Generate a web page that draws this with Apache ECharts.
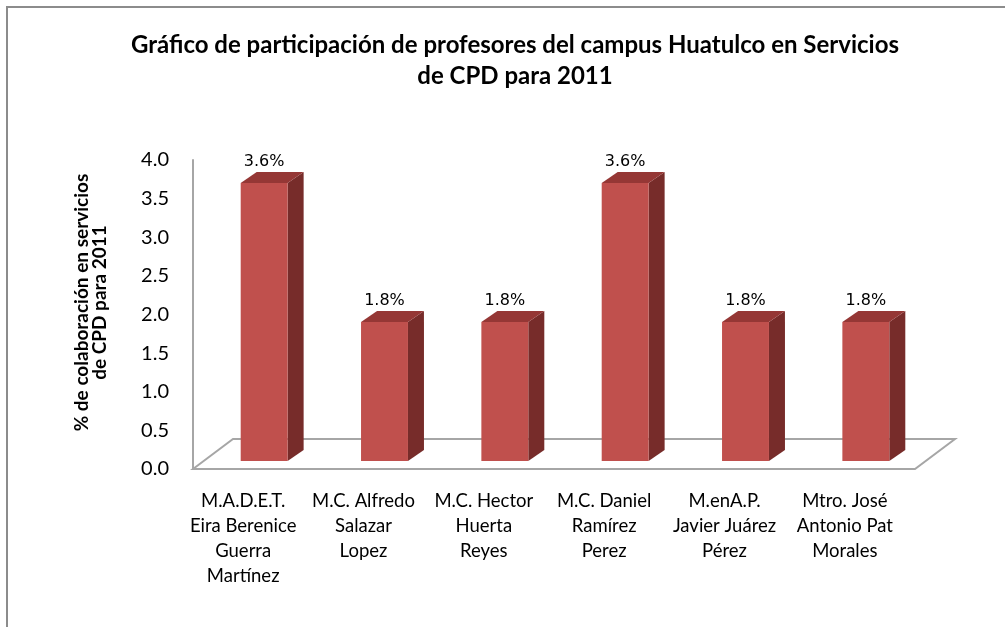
<!DOCTYPE html>
<html><head><meta charset="utf-8">
<script src="https://cdn.jsdelivr.net/npm/echarts@6/dist/echarts.min.js"></script>
<style>html,body{margin:0;padding:0;background:#fff}#c{width:1005px;height:627px}</style>
</head><body><div id="c"></div>
<script>
var categories = [
  "M.A.D.E.T.\nEira Berenice\nGuerra\nMartínez",
  "M.C. Alfredo\nSalazar\nLopez",
  "M.C. Hector\nHuerta\nReyes",
  "M.C. Daniel\nRamírez\nPerez",
  "M.enA.P.\nJavier Juárez\nPérez",
  "Mtro. José\nAntonio Pat\nMorales"
];
var values = [3.6, 1.8, 1.8, 3.6, 1.8, 1.8];
var yTicks = [0, 0.5, 1, 1.5, 2, 2.5, 3, 3.5, 4];
var titleText = "Gráfico de participación de profesores del campus Huatulco en Servicios\nde CPD para 2011";
var yName = "% de colaboración en servicios\nde CPD para 2011";

var FONT = "Lato, 'Open Sans', sans-serif";
var chart = echarts.init(document.getElementById('c'));

function floorItem(params, api) {
  var n = categories.length;
  var s = api.size([1, 0])[0];
  var l = api.coord([0, 0])[0] - s / 2;
  var r = api.coord([n - 1, 0])[0] + s / 2;
  var y = api.coord([0, 0])[1];
  var dx = 40, dy = -30;
  return {
    type: 'polygon',
    shape: { points: [[l, y], [l + dx, y + dy], [r + dx, y + dy], [r, y]] },
    style: { fill: '#fff', stroke: '#a6a6a6', lineWidth: 2 }
  };
}

function barItem(params, api) {
  var i = api.value(0), v = api.value(1);
  var base = api.coord([i, 0]);
  var top = api.coord([i, v]);
  var s = api.size([1, 0])[0];
  var w = s * 0.39;
  var ox = 11, oy = -8, dx = 16, dy = -11;
  var L = base[0] + ox - w / 2, R = base[0] + ox + w / 2;
  var B = base[1] + oy, T = top[1] + oy;
  return {
    type: 'group',
    children: [
      { type: 'polygon', shape: { points: [[R, T], [R + dx, T + dy], [R + dx, B + dy], [R, B]] },
        style: { fill: '#772c2a' } },
      { type: 'polygon', shape: { points: [[L, T], [L + dx, T + dy], [R + dx, T + dy], [R, T]] },
        style: { fill: '#953735' } },
      { type: 'rect', shape: { x: L, y: T, width: w, height: B - T },
        style: { fill: '#c0504d' } },
      { type: 'text', x: (L + R) / 2, y: T + dy - 2,
        style: { text: v.toFixed(1) + '%', fill: '#000', font: "16px 'DejaVu Sans', sans-serif",
                 textAlign: 'center', textVerticalAlign: 'bottom' } }
    ]
  };
}

chart.setOption({
  animation: false,
  backgroundColor: '#fff',
  title: {
    text: titleText, left: 510, textAlign: 'center', top: 25,
    textStyle: { fontFamily: FONT, fontSize: 24, fontWeight: 'bold', color: '#000', lineHeight: 31 }
  },
  graphic: [
    { type: 'polyline', shape: { points: [[7, 627], [7, 7], [1005, 7]] },
      style: { stroke: '#8c8c8c', lineWidth: 2, fill: null } }
  ],
  grid: { left: 193, right: 90, top: 160, bottom: 158, containLabel: false },
  xAxis: {
    type: 'category', data: categories,
    axisLine: { show: false }, axisTick: { show: false },
    axisLabel: { interval: 0, margin: 20, color: '#000', fontFamily: FONT, fontSize: 18.5,
                 lineHeight: 25, padding: [0, 20, 0, 0] }
  },
  yAxis: {
    type: 'value', min: 0, max: 4, interval: 0.5,
    name: yName, nameLocation: 'middle', nameGap: 84, nameRotate: 90,
    nameTextStyle: { fontFamily: FONT, fontSize: 19, fontWeight: 'bold', color: '#000', lineHeight: 18,
                     padding: [0, 0, 0, 24] },
    axisLine: { show: true, lineStyle: { color: '#a6a6a6', width: 2 } },
    axisTick: { show: false }, splitLine: { show: false },
    axisLabel: { margin: 24, color: '#000', fontFamily: FONT, fontSize: 20,
                 formatter: function (v) { return v.toFixed(1); } }
  },
  series: [
    { type: 'custom', renderItem: floorItem, data: [[0, 0]], silent: true, z: 1 },
    { type: 'custom', renderItem: barItem, z: 2,
      data: values.map(function (v, i) { return [i, v]; }) }
  ]
});
</script></body></html>
